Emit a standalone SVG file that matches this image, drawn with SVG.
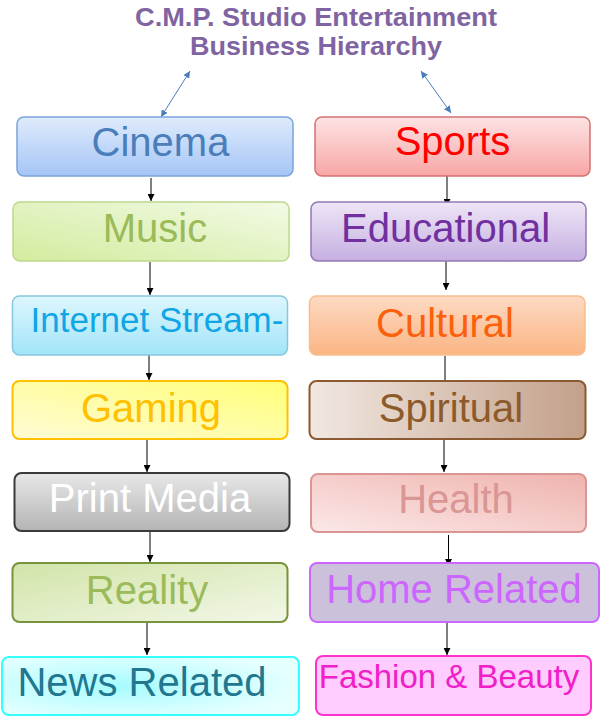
<svg xmlns="http://www.w3.org/2000/svg" width="600" height="716" viewBox="0 0 600 716">
<defs>
<style>
.t{font-family:"Liberation Sans",Arial,sans-serif;font-size:40px;text-anchor:middle}
.ttl{font-family:"Liberation Sans",Arial,sans-serif;font-size:25px;font-weight:bold;fill:#8064a2;text-anchor:middle}
.b{stroke-width:1.5}
.b2{stroke-width:2}
.c{stroke:#000;stroke-width:1;fill:none;marker-end:url(#ah)}
.d{stroke:#4a7ebb;stroke-width:1;fill:none;marker-start:url(#bh);marker-end:url(#bh)}
</style>
<marker id="ah" viewBox="0 0 10 10" refX="10" refY="5" markerWidth="7" markerHeight="7" markerUnits="userSpaceOnUse" orient="auto"><path d="M0,0 L10,5 L0,10 z" fill="#000"/></marker>
<marker id="bh" viewBox="0 0 10 10" refX="10" refY="5" markerWidth="7" markerHeight="7" markerUnits="userSpaceOnUse" orient="auto-start-reverse"><path d="M0,0 L10,5 L0,10 z" fill="#4a7ebb"/></marker>
<linearGradient id="gCin" x1="0" y1="0" x2="0" y2="1"><stop offset="0" stop-color="#dfebfc"/><stop offset="1" stop-color="#a5c5f6"/></linearGradient>
<linearGradient id="gMus" x1="1" y1="0" x2="0" y2="1"><stop offset="0" stop-color="#f3fae6"/><stop offset="1" stop-color="#d2ec9e"/></linearGradient>
<linearGradient id="gInt" x1="0" y1="0" x2="0" y2="1"><stop offset="0" stop-color="#def6fd"/><stop offset="1" stop-color="#a2e5f9"/></linearGradient>
<linearGradient id="gGam" x1="0" y1="1" x2="1" y2="0"><stop offset="0" stop-color="#fffbd6"/><stop offset="1" stop-color="#ffff78"/></linearGradient>
<linearGradient id="gPri" x1="0" y1="0" x2="0" y2="1"><stop offset="0" stop-color="#e8e8e8"/><stop offset="1" stop-color="#b4b4b4"/></linearGradient>
<linearGradient id="gRea" x1="0" y1="0" x2="1" y2="1"><stop offset="0" stop-color="#d2e4a8"/><stop offset="1" stop-color="#f2f7e8"/></linearGradient>
<radialGradient id="gNew" cx="0.4" cy="0.5" r="0.6"><stop offset="0" stop-color="#a6fcff"/><stop offset="1" stop-color="#e6ffff"/></radialGradient>
<linearGradient id="gSpo" x1="0" y1="0" x2="0" y2="1"><stop offset="0" stop-color="#fde3e3"/><stop offset="1" stop-color="#f8a6a6"/></linearGradient>
<linearGradient id="gEdu" x1="0" y1="0" x2="0" y2="1"><stop offset="0" stop-color="#eee6f6"/><stop offset="1" stop-color="#c5afe1"/></linearGradient>
<linearGradient id="gCul" x1="0" y1="0" x2="0" y2="1"><stop offset="0" stop-color="#fddac3"/><stop offset="1" stop-color="#fbb584"/></linearGradient>
<linearGradient id="gSpi" x1="0" y1="0" x2="1" y2="0"><stop offset="0" stop-color="#f1e8e2"/><stop offset="1" stop-color="#c3a08a"/></linearGradient>
<linearGradient id="gHea" x1="0" y1="1" x2="1" y2="0"><stop offset="0" stop-color="#fbe8e8"/><stop offset="1" stop-color="#efb3ae"/></linearGradient>
</defs>
<rect width="600" height="716" fill="#fff"/>
<g id="title">
<text class="ttl" x="316" y="26" textLength="362" lengthAdjust="spacingAndGlyphs">C.M.P. Studio Entertainment</text>
<text class="ttl" x="316" y="55" textLength="252" lengthAdjust="spacingAndGlyphs">Business Hierarchy</text>
</g>
<g id="connectors">
<line class="d" x1="190" y1="71" x2="161" y2="117"/>
<line class="d" x1="421" y1="71" x2="451" y2="113"/>
<line class="c" x1="151" y1="178" x2="151" y2="201"/>
<line class="c" x1="150" y1="262" x2="150" y2="295"/>
<line class="c" x1="149" y1="349" x2="149" y2="380"/>
<line class="c" x1="147" y1="439" x2="147" y2="472"/>
<line class="c" x1="150" y1="532" x2="150" y2="562"/>
<line class="c" x1="147" y1="622" x2="147" y2="655"/>
<line class="c" x1="447" y1="176" x2="447" y2="206"/>
<line class="c" x1="446" y1="258" x2="446" y2="290"/>
<line class="c" x1="445" y1="356" x2="445" y2="387"/>
<line class="c" x1="444" y1="439" x2="444" y2="472"/>
<line class="c" x1="448.5" y1="535" x2="448.5" y2="566"/>
<line class="c" x1="447" y1="622" x2="447" y2="655"/>
</g>
<g id="cinema"><rect class="b" x="17" y="117" width="276" height="59" rx="7" fill="url(#gCin)" stroke="#7ba4da"/><text class="t" x="160.5" y="156" fill="#4a7ebb">Cinema</text></g>
<g id="music"><rect class="b" x="13" y="202" width="276" height="59" rx="7" fill="url(#gMus)" stroke="#bcd98c"/><text class="t" x="155" y="242" fill="#9bbb59">Music</text></g>
<g id="internet"><rect class="b" x="12.5" y="296" width="275" height="59" rx="7" fill="url(#gInt)" stroke="#88c6de"/><text class="t" x="157" y="332" fill="#10a6e6" style="font-size:35px">Internet Stream-</text></g>
<g id="gaming"><rect class="b2" x="12.5" y="381" width="275" height="58" rx="7" fill="url(#gGam)" stroke="#ffc000"/><text class="t" x="151" y="422" fill="#ffc000">Gaming</text></g>
<g id="print"><rect class="b2" x="14.5" y="473" width="275" height="58" rx="7" fill="url(#gPri)" stroke="#3a3a3a"/><text class="t" x="150" y="512" fill="#ffffff">Print Media</text></g>
<g id="reality"><rect class="b2" x="12.5" y="563" width="275" height="59" rx="7" fill="url(#gRea)" stroke="#77933c"/><text class="t" x="147" y="604" fill="#9bbb59">Reality</text></g>
<g id="news"><rect class="b2" x="2" y="657" width="297" height="58" rx="7" fill="url(#gNew)" stroke="#33ffff"/><text class="t" x="142" y="696" fill="#217790">News Related</text></g>
<g id="sports"><rect class="b" x="315" y="117" width="275" height="59" rx="7" fill="url(#gSpo)" stroke="#d47272"/><text class="t" x="452.5" y="155" fill="#ff0000">Sports</text></g>
<g id="educational"><rect class="b" x="311" y="202" width="275" height="59" rx="7" fill="url(#gEdu)" stroke="#9178b4"/><text class="t" x="445.5" y="242" fill="#7030a0">Educational</text></g>
<g id="cultural"><rect class="b" x="309.5" y="296" width="275.5" height="59" rx="7" fill="url(#gCul)" stroke="#f9bd8c"/><text class="t" x="445" y="337" fill="#fb600c">Cultural</text></g>
<g id="spiritual"><rect class="b2" x="309.5" y="381" width="276" height="58" rx="7" fill="url(#gSpi)" stroke="#8c5a32"/><text class="t" x="451" y="422" fill="#8d5b2b">Spiritual</text></g>
<g id="health"><rect class="b2" x="311" y="474" width="275" height="58" rx="7" fill="url(#gHea)" stroke="#d99694"/><text class="t" x="456" y="513" fill="#d99694">Health</text></g>
<g id="home"><rect class="b2" x="310" y="563" width="289" height="59" rx="7" fill="#ccc1da" stroke="#cc66ff"/><text class="t" x="454" y="603" fill="#cc66ff">Home Related</text></g>
<g id="fashion"><rect class="b2" x="316" y="656" width="275" height="59" rx="7" fill="#ffccff" stroke="#ff33cc"/><text class="t" x="449" y="688" fill="#f020c8" style="font-size:33px">Fashion &amp; Beauty</text></g>
</svg>
